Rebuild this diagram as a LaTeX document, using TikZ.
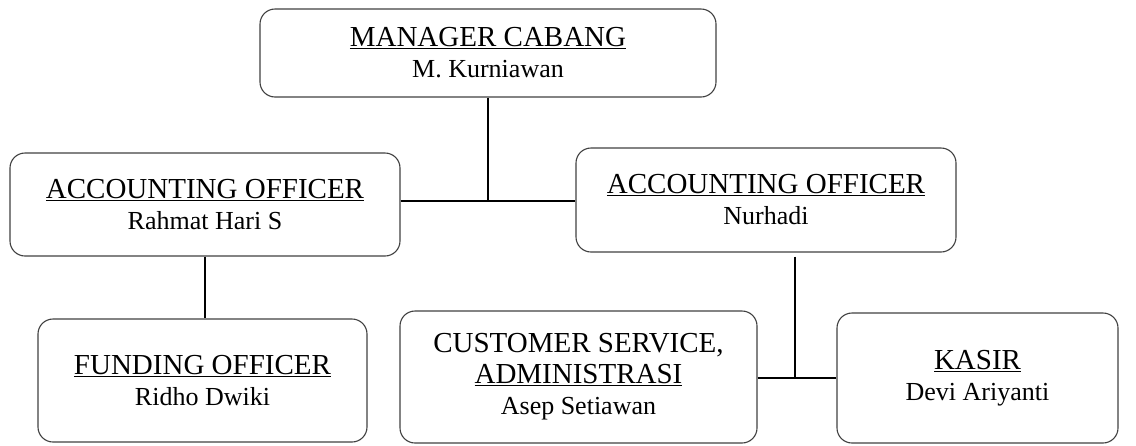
\documentclass[tikz,border=0pt]{standalone}
\usepackage{fontspec}
\setmainfont{Liberation Serif}
\usepackage{tikz}

\newcommand{\jab}[1]{{\fontsize{29}{31}\selectfont\underline{#1}}}
\newcommand{\nama}[1]{{\fontsize{26}{31}\selectfont #1}}

\begin{document}
\begin{tikzpicture}[x=1pt,y=-1pt, % y axis goes down, like the screen
    box/.style={draw=black!75, line width=1.1pt, rounded corners=15pt, inner sep=0pt, align=center,
                font=\fontsize{26}{31}\selectfont},
    link/.style={draw=black, line width=1.5pt}]
  \useasboundingbox (0,0) rectangle (1136,445);

  \node[box, minimum width=456, minimum height=88] (mgr) at (488,53)
       {\jab{MANAGER CABANG}\\ \nama{M. Kurniawan}};
  \node[box, minimum width=390, minimum height=103] (aol) at (205,204.5)
       {\jab{ACCOUNTING OFFICER}\\ \nama{Rahmat Hari S}};
  \node[box, minimum width=380, minimum height=104] (aor) at (766,200)
       {\jab{ACCOUNTING OFFICER}\\ \nama{Nurhadi}};
  \node[box, minimum width=329, minimum height=123] (fund) at (202.5,380.5)
       {\jab{FUNDING OFFICER}\\ \nama{Ridho Dwiki}};
  \node[box, minimum width=357, minimum height=132] (cs) at (578.5,377)
       {{\fontsize{29}{31}\selectfont CUSTOMER SERVICE,}\\ \jab{ADMINISTRASI}\\ \nama{Asep Setiawan}};
  \node[box, minimum width=281, minimum height=130] (kasir) at (977.5,378)
       {\jab{KASIR}\\ \nama{Devi Ariyanti}};

  % junctions
  \coordinate (j1) at (488,201);
  \coordinate (j2) at (795,378);

  \draw[link] (mgr.south) -- (j1);
  \draw[link] (aol.east |- j1) -- (aor.west |- j1);
  \draw[link] (aol.south) -- (aol.south |- fund.north);
  \draw[link] ([yshift=-4pt]aor.south -| j2) -- (j2);
  \draw[link] (cs.east |- j2) -- (kasir.west |- j2);
\end{tikzpicture}
\end{document}
